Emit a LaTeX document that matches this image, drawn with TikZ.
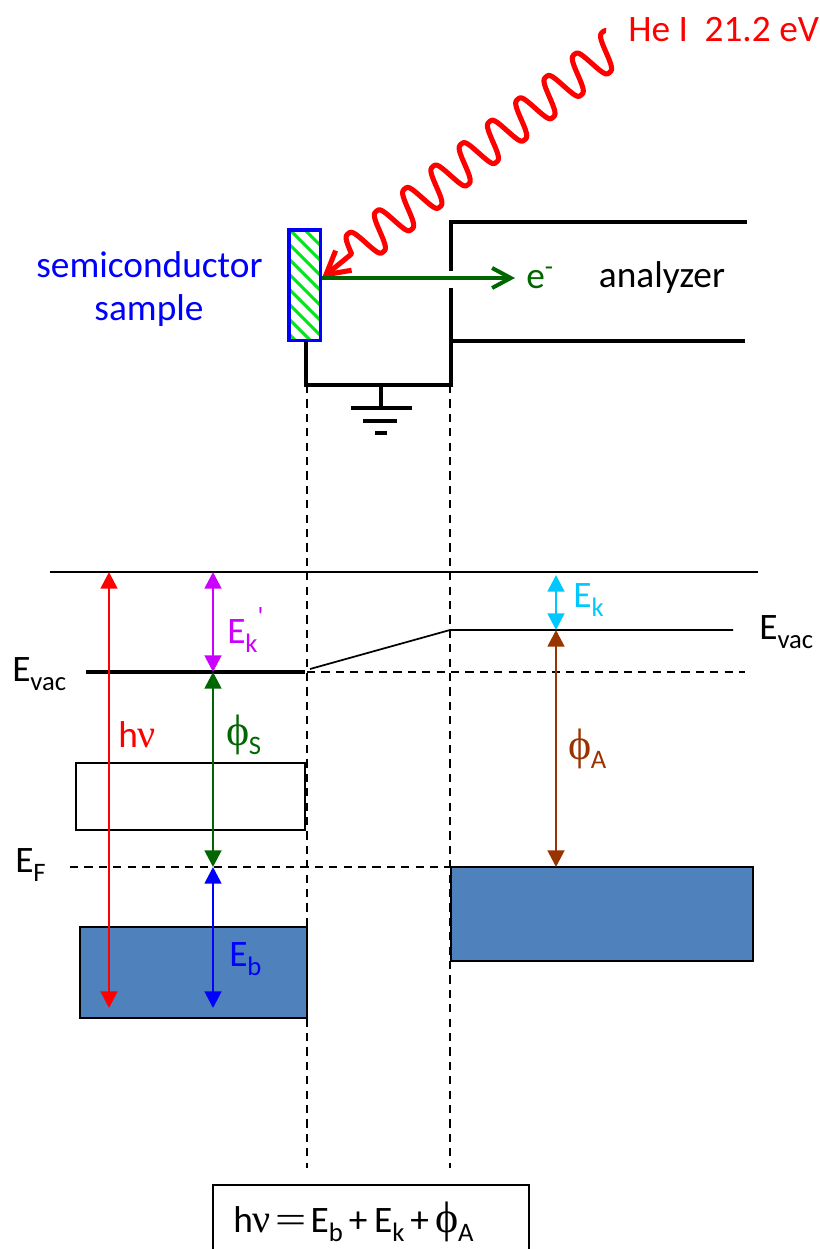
\documentclass[tikz,border=0pt]{standalone}
\usepackage{fontspec}
\setmainfont{Carlito}
\newfontfamily\symfont{Liberation Serif}
\newfontfamily\plainfont{Carlito}
\usetikzlibrary{arrows.meta}
\definecolor{bandblue}{HTML}{4F81BD}
\definecolor{darkgreen}{HTML}{006600}
\definecolor{hatchgreen}{HTML}{00E61A}
\definecolor{ekpurple}{HTML}{CC00FF}
\definecolor{ekcyan}{HTML}{00C8FF}
\definecolor{phibrown}{HTML}{993300}
\newcommand{\dnidx}[1]{\raisebox{-0.5ex}{\fontsize{20}{20}\selectfont #1}}
\newcommand{\upidx}[1]{\raisebox{1ex}{\fontsize{20}{20}\selectfont\plainfont #1}}
\newcommand{\symphi}{{\symfont\fontsize{33}{33}\selectfont ϕ}\hspace{-0.5pt}}
\newcommand{\symnu}{{\symfont\fontsize{30}{30}\selectfont ν}}
\tikzset{
  lbl/.style={font=\fontsize{28}{30}\selectfont,inner sep=0pt},
  level/.style={line width=1.3pt},
  dashlevel/.style={line width=1.1pt,dash pattern=on 6.2pt off 4.6pt},
  wire/.style={line width=3pt},
  tri/.style={line width=2.1pt,{Triangle[length=12.5pt,width=12.5pt]}-{Triangle[length=12.5pt,width=12.5pt]}},
  band/.style={draw=black,line width=1.3pt,fill=bandblue},
}
\begin{document}
\begin{tikzpicture}[x=0.75pt,y=-0.75pt]
        \useasboundingbox (0,0) rectangle (820,1249);
        % photon
        \coordinate (hit) at (322,278);
        \draw [red,line width=3.8pt,line join=round,-{Straight Barb[length=17pt,width=19pt,line width=3.8pt]},domain=-35:3330,samples=600]
            plot ({613.1-28.27*(\x/360)+.9*cos(\x)-.621*20*(cos(\x)-.1*cos(3*\x))},{46.7+22.4*(\x/360)-.71*cos(\x)-.784*20*(cos(\x)-.1*cos(3*\x))}) -- (hit);
        \node (helabel) at (628,30)[right,lbl,text=red]{He I\hspace{12.5pt}21.2 eV};
        % sample
        \begin{scope}
            \clip (289,230) rectangle (321,341);
            \foreach \k in {-2,...,7}
                \draw [hatchgreen,line width=2.2pt] (270,{225+15*\k})--(340,{295+15*\k});
        \end{scope}
        \node (sample) at (304.8,285.2)[draw=blue,line width=2.8pt,minimum width=23.6pt,minimum height=82.9pt,inner sep=0pt]{};
        \node (samplelabel) at (149.5,265)[lbl,text=blue]{semiconductor};
        \node (samplelabelb) at (149,311)[lbl,text=blue]{sample};
        % analyzer and ground
        \coordinate (slitup) at (451,269);
        \coordinate (slitdn) at (451,288);
        \draw [wire,line cap=rect] (745,222)--(451,222)--(slitup);
        \draw [wire] (slitdn)--(451,385)--(306,385)--(306,341);
        \draw [wire] (451,341)--(745,341);
        \draw [wire] (381,385)--(381,408);
        \draw [wire] (351,408)--(412,408);
        \draw [wire] (363,421)--(397,421);
        \draw [wire] (375,433)--(387,433);
        \coordinate (eend) at (515,278);
        \draw [darkgreen,line width=3pt,-{Straight Barb[length=14pt,width=15pt,line width=3pt]}] (hit)--(eend);
        \node (elabel) at (526,278)[right,lbl,text=darkgreen]{e\raisebox{0.75ex}{\fontsize{20}{20}\selectfont -}};
        \node (anlabel) at (662,278)[lbl]{analyzer};
        % levels
        \draw [dashlevel] (307,385)--(307,1168);
        \draw [dashlevel] (450,385)--(450,1168);
        \node (vb) at (190.5,796.5)[draw,line width=1.3pt,fill=white,minimum width=171.75pt,minimum height=50.25pt,inner sep=0pt]{};
        \node (leftval) at (193.5,972.5)[band,minimum width=170.25pt,minimum height=68.25pt,inner sep=0pt]{};
        \node (rightval) at (602,914)[band,minimum width=226.5pt,minimum height=70.5pt,inner sep=0pt]{};
        \draw [level] (50,572)--(758,572);
        \draw [line width=2.3pt] (86,672)--(305,672);
        \draw [level] (310,669)--(450,630)--(733,630);
        \draw [dashlevel] (307,672)--(745,672);
        \draw [dashlevel] (70,867)--(450,867);
        \node (evacl) at (12,674)[right,lbl]{E\dnidx{vac}};
        \node (evacr) at (759,632)[right,lbl]{E\dnidx{vac}};
        \node (ef) at (15,865)[right,lbl]{E\dnidx{F}};
        % arrows
        \draw [tri,red] (109,572)--(109,1008);
        \draw [tri,ekpurple] (213,572)--(213,672);
        \draw [tri,darkgreen] (213,672)--(213,867);
        \draw [tri,blue] (213,867)--(213,1008);
        \draw [tri,ekcyan] (556,575)--(556,630);
        \draw [tri,phibrown] (556,630)--(556,867);
        \node (hnu) at (118,735)[right,lbl,text=red]{h\symnu};
        \node (eks) at (227,630)[right,lbl,text=ekpurple]{E\dnidx{k}\upidx{'}};
        \node (phis) at (226,735)[right,lbl,text=darkgreen]{\symphi\dnidx{S}};
        \node (eb) at (229,959)[right,lbl,text=blue]{E\dnidx{b}};
        \node (ek) at (573,600)[right,lbl,text=ekcyan]{E\dnidx{k}};
        \node (phia) at (568,749)[right,lbl,text=phibrown]{\symphi\dnidx{A}};
        % equation
        \coordinate (boxa) at (213,1249);
        \coordinate (boxb) at (529,1249);
        \draw [level] (boxa)--(213,1185)--(529,1185)--(boxb);
        \node (equation) at (233,1222)[right,lbl]{h\symnu\hspace{3pt}\scalebox{1.5}[1]{\symfont =}\hspace{3pt}E\dnidx{b}\hspace{4.5pt}+\hspace{5pt}E\dnidx{k}\hspace{4.5pt}+\hspace{5pt}\symphi\dnidx{A}};
    \end{tikzpicture}
\end{document}
